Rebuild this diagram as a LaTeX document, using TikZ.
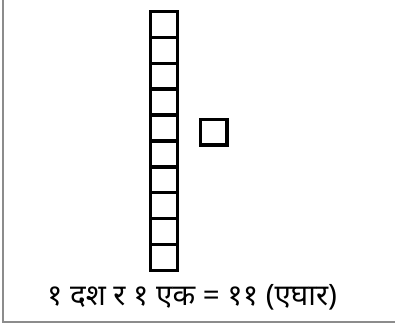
\documentclass[tikz,border=0pt]{standalone}
\usepackage{fontspec}
\newfontfamily\devfont[Script=Devanagari]{Noto Sans}
\usepackage{tikz}
\usetikzlibrary{positioning}

\begin{document}
\begin{tikzpicture}[x=1pt, y=-1pt,
    unit/.style={draw, line width=3.4pt, minimum width=27pt, minimum height=25.9pt, inner sep=0pt},
    frame/.style={draw=black!45, line width=1.5pt}]
  \useasboundingbox (0,0) rectangle (395,328);
  % frame
  \coordinate (ftop) at (3,-2);
  \coordinate (fcorner) at (3,322);
  \coordinate (fright) at (397,322);
  \draw[frame] (ftop) -- (fcorner) -- (fright);
  % one ten: column of ten units
  \foreach \i in {1,...,10}
    \node[unit] (ten\i) at (164, {11.5+25.9*(\i-0.5)}) {};
  % one unit
  \node[unit, minimum width=26.7pt, minimum height=25.7pt] (one) at (213.7,132.2) {};
  % caption
  \node[font=\devfont\fontsize{29.5}{34}\selectfont] (caption) at (192,297) {१ दश र १ एक = ११ (एघार)};
\end{tikzpicture}
\end{document}
